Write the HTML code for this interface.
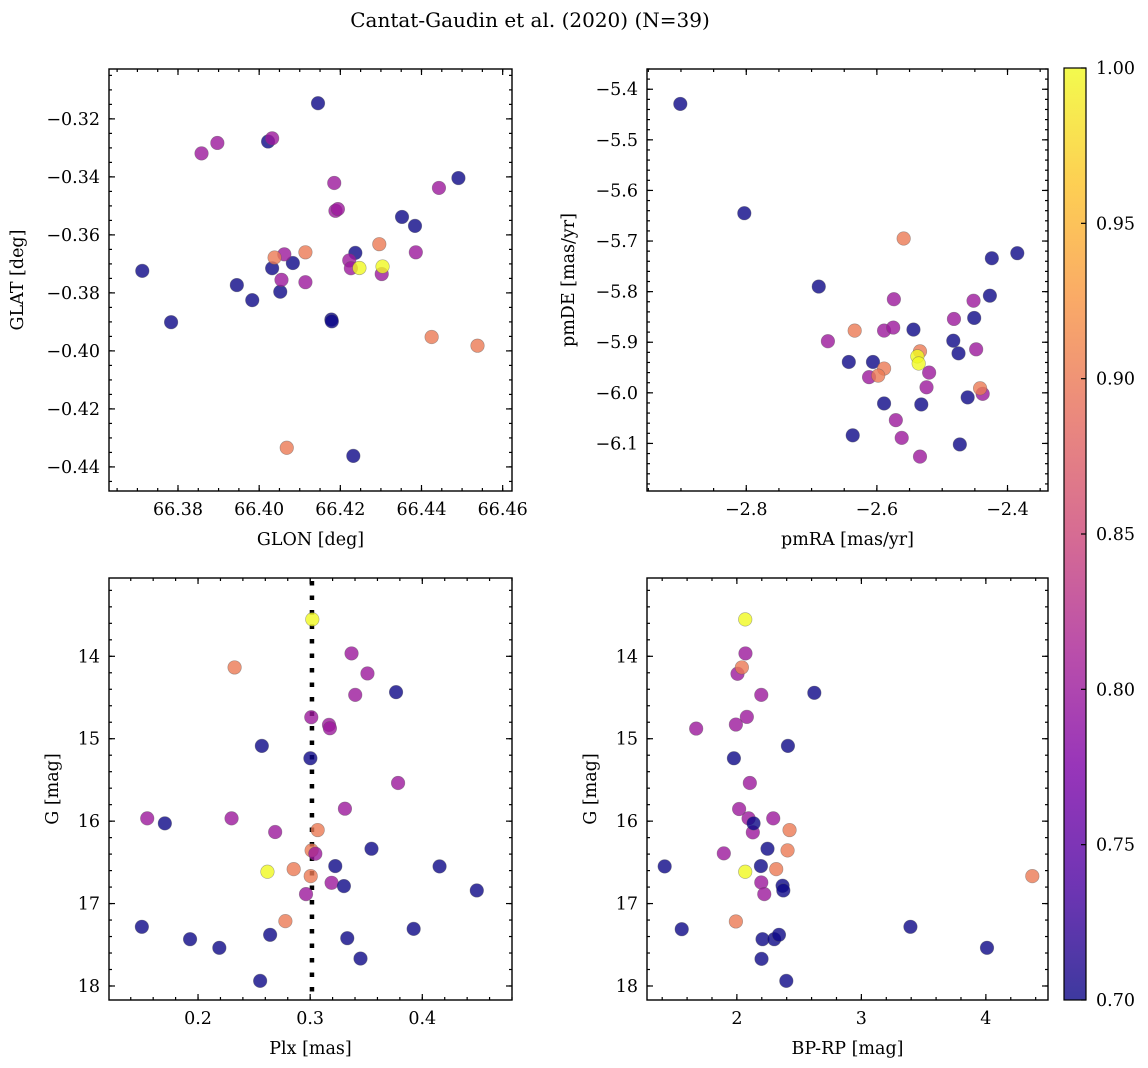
<!DOCTYPE html>
<html><head><meta charset="utf-8"><style>
html,body{margin:0;padding:0;background:#fff;}
svg{display:block;font-family:"DejaVu Serif","Liberation Serif",serif;}
</style></head><body>
<svg id="fig" width="1148" height="1068" viewBox="0 0 1148 1068" xmlns="http://www.w3.org/2000/svg">
<defs>
<linearGradient id="plasma" x1="0" y1="1" x2="0" y2="0">
<stop offset="0" stop-color="#0d0887"/><stop offset="0.125" stop-color="#4c02a1"/><stop offset="0.25" stop-color="#7e03a8"/><stop offset="0.375" stop-color="#a92395"/><stop offset="0.5" stop-color="#cc4778"/><stop offset="0.625" stop-color="#e56b5d"/><stop offset="0.75" stop-color="#f89441"/><stop offset="0.875" stop-color="#fdc328"/><stop offset="1" stop-color="#f0f921"/>
</linearGradient>
</defs>
<text x="530" y="27" font-size="20" text-anchor="middle">Cantat-Gaudin et al. (2020) (N=39)</text>
</svg>
<script>
// Panel 1: sky position
const glon = [66.4145,66.4022,66.4491,66.4352,66.4384,66.4237,66.4083,66.4032,66.3712,66.3945,66.3983,66.4052,66.3783,66.4178,66.4179,66.4232,
 66.3858,66.3897,66.4032,66.4185,66.4188,66.4194,66.4443,66.4386,66.4062,66.4222,66.4226,66.4055,66.4114,66.4302,
 66.4038,66.4114,66.4296,66.4425,66.4538,66.4068,66.4247,66.4304];
const glat = [-0.3146,-0.3278,-0.3404,-0.3538,-0.3569,-0.3662,-0.3697,-0.3715,-0.3724,-0.3773,-0.3825,-0.3796,-0.3901,-0.3892,-0.3898,-0.4362,
 -0.3319,-0.3283,-0.3267,-0.3421,-0.3517,-0.3511,-0.3438,-0.3660,-0.3667,-0.3688,-0.3715,-0.3755,-0.3763,-0.3735,
 -0.3678,-0.3660,-0.3632,-0.3952,-0.3982,-0.4334,-0.3714,-0.3709];
const prob1 = [0.7,0.7,0.7,0.7,0.7,0.7,0.7,0.7,0.7,0.7,0.7,0.7,0.7,0.7,0.7,0.7,
 0.8,0.8,0.8,0.8,0.8,0.8,0.8,0.8,0.8,0.8,0.8,0.8,0.8,0.8,
 0.9,0.9,0.9,0.9,0.9,0.9,1.0,1.0];
// Panel 2: proper motions
const pmra = [-2.901,-2.803,-2.689,-2.643,-2.606,-2.544,-2.424,-2.385,-2.427,-2.451,-2.483,-2.475,-2.461,-2.589,-2.532,-2.637,-2.473,
 -2.675,-2.574,-2.589,-2.575,-2.612,-2.482,-2.452,-2.448,-2.520,-2.524,-2.438,-2.571,-2.562,-2.534,
 -2.559,-2.634,-2.589,-2.598,-2.534,-2.442,-2.538,-2.536];
const pmde = [-5.429,-5.645,-5.790,-5.939,-5.939,-5.875,-5.734,-5.724,-5.808,-5.852,-5.897,-5.922,-6.009,-6.021,-6.023,-6.084,-6.102,
 -5.898,-5.815,-5.877,-5.871,-5.969,-5.854,-5.818,-5.914,-5.960,-5.989,-6.002,-6.054,-6.089,-6.126,
 -5.695,-5.877,-5.952,-5.966,-5.918,-5.991,-5.928,-5.942];
const prob2 = [0.7,0.7,0.7,0.7,0.7,0.7,0.7,0.7,0.7,0.7,0.7,0.7,0.7,0.7,0.7,0.7,0.7,
 0.8,0.8,0.8,0.8,0.8,0.8,0.8,0.8,0.8,0.8,0.8,0.8,0.8,0.8,
 0.9,0.9,0.9,0.9,0.9,0.9,1.0,1.0];
// Panel 3: parallax vs G
const plx = [0.3019,0.2619,
 0.2326,0.3067,0.3013,0.2853,0.3005,0.2779,
 0.3369,0.3511,0.3402,0.3010,0.3168,0.3176,0.3784,0.3310,0.1547,0.2299,0.2688,0.3046,0.3191,0.2963,
 0.3766,0.2569,0.3002,0.1704,0.3547,0.3224,0.4154,0.3301,0.4486,0.1499,0.1929,0.2190,0.2643,0.3331,0.3923,0.3449,0.2554];
const gmag3 = [13.552,16.614,
 14.135,16.108,16.355,16.582,16.667,17.213,
 13.965,14.208,14.468,14.739,14.832,14.873,15.537,15.849,15.966,15.966,16.132,16.395,16.748,16.885,
 14.435,15.087,15.237,16.027,16.335,16.545,16.549,16.788,16.841,17.282,17.432,17.537,17.379,17.420,17.307,17.667,17.938];
const prob3 = [1.0,1.0, 0.9,0.9,0.9,0.9,0.9,0.9,
 0.8,0.8,0.8,0.8,0.8,0.8,0.8,0.8,0.8,0.8,0.8,0.8,0.8,0.8,
 0.7,0.7,0.7,0.7,0.7,0.7,0.7,0.7,0.7,0.7,0.7,0.7,0.7,0.7,0.7,0.7,0.7];
const plxRef = [0.3016];
// Panel 4: CMD
const bprp = [2.067,2.067,
 2.069,2.005,2.196,2.080,1.673,1.992,2.104,2.018,2.094,2.292,2.128,1.895,2.196,2.220,
 2.040,2.423,2.407,2.316,4.373,1.992,
 2.622,2.410,1.976,2.134,2.246,2.193,1.420,2.367,2.373,1.557,3.394,2.206,2.300,2.338,4.009,2.198,2.397];
const gmag4 = [13.552,16.614,
 13.965,14.212,14.468,14.735,14.877,14.828,15.537,15.853,15.966,15.966,16.136,16.391,16.744,16.885,
 14.135,16.108,16.355,16.582,16.667,17.217,
 14.443,15.087,15.237,16.027,16.335,16.545,16.549,16.784,16.841,17.311,17.282,17.432,17.432,17.379,17.537,17.671,17.938];
const prob4 = [1.0,1.0,
 0.8,0.8,0.8,0.8,0.8,0.8,0.8,0.8,0.8,0.8,0.8,0.8,0.8,0.8,
 0.9,0.9,0.9,0.9,0.9,0.9,
 0.7,0.7,0.7,0.7,0.7,0.7,0.7,0.7,0.7,0.7,0.7,0.7,0.7,0.7,0.7,0.7,0.7];
const cbTicks = [0.70,0.75,0.80,0.85,0.90,0.95,1.00];

const NS = "http://www.w3.org/2000/svg";
const svg = document.getElementById('fig');
function mk(tag, attrs, parent){ const e=document.createElementNS(NS,tag); for(const k in attrs) e.setAttribute(k,attrs[k]); (parent||svg).appendChild(e); return e; }
const stops=[[0,[13,8,135]],[0.125,[76,2,161]],[0.25,[126,3,168]],[0.375,[169,35,149]],[0.5,[204,71,120]],[0.625,[229,107,93]],[0.75,[248,148,65]],[0.875,[253,195,40]],[1,[240,249,33]]];
function plasma(v){ let t=(v-0.7)/0.3; t=Math.max(0,Math.min(1,t));
 for(let i=0;i<stops.length-1;i++){ const a=stops[i],b=stops[i+1]; if(t<=b[0]){ const f=(t-a[0])/(b[0]-a[0]); const c=a[1].map((x,j)=>Math.round(x+(b[1][j]-x)*f)); return 'rgb('+c.join(',')+')'; } }
 return 'rgb(240,249,33)'; }
function fmt(v,d){ const s=Math.abs(v).toFixed(d); return (v<-1e-9?'\u2212':'')+s; }

function panel(cfg){
 const g=mk('g',{});
 
 
 const {x0,x1,y0,y1,xmin,xmax,ymin,ymax}=cfg;
 const sx=v=>x0+(v-xmin)/(xmax-xmin)*(x1-x0);
 const sy=v=>y0+(v-ymin)/(ymax-ymin)*(y1-y0);
 const tg=mk('g',{stroke:'#000','stroke-width':1.2},g);
 const eps=1e-9;
 function range(a,b,st){ const lo=Math.min(a,b),hi=Math.max(a,b); const r=[]; for(let v=Math.ceil(lo/st-eps)*st; v<=hi+eps; v+=st) r.push(+v.toFixed(6)); return r; }
 range(xmin,xmax,cfg.xminor).forEach(v=>{const X=sx(v); mk('line',{x1:X,x2:X,y1:y1,y2:y1-3},tg); mk('line',{x1:X,x2:X,y1:y0,y2:y0+3},tg);});
 range(ymin,ymax,cfg.yminor).forEach(v=>{const Y=sy(v); mk('line',{x1:x0,x2:x0+3,y1:Y,y2:Y},tg); mk('line',{x1:x1,x2:x1-3,y1:Y,y2:Y},tg);});
 cfg.xticks.forEach(v=>{const X=sx(v); mk('line',{x1:X,x2:X,y1:y1,y2:y1-6},tg); mk('line',{x1:X,x2:X,y1:y0,y2:y0+6},tg);
   const t=mk('text',{x:X,y:y1+24,'font-size':17.5,'text-anchor':'middle'},g); t.textContent=fmt(v,cfg.xd);
   
   });
 cfg.yticks.forEach(v=>{const Y=sy(v); mk('line',{x1:x0,x2:x0+6,y1:Y,y2:Y},tg); mk('line',{x1:x1,x2:x1-6,y1:Y,y2:Y},tg);
   const t=mk('text',{x:x0-9,y:Y+6,'font-size':17.5,'text-anchor':'end'},g); t.textContent=fmt(v,cfg.yd);
   
   });
 if(cfg.vline){ cfg.vline.forEach(v=>{ const l=mk('line',{x1:sx(v),x2:sx(v),y1:y0+3,y2:y1,stroke:'#000','stroke-width':4.5,'stroke-dasharray':'4.5 10'},g);
   
    }); }
 const pg=mk('g',{},g);
 cfg.xs.forEach((v,i)=>{ const c=mk('circle',{cx:sx(v),cy:sy(cfg.ys[i]),r:6.8,fill:plasma(cfg.ps[i]),'fill-opacity':0.8,stroke:'rgba(90,90,90,0.5)','stroke-width':0.6},pg);
   
    });
 const fr=mk('rect',{x:x0,y:y0,width:x1-x0,height:y1-y0,fill:'none',stroke:'#000','stroke-width':1.4},g);
 
 
 const xl=mk('text',{x:(x0+x1)/2,y:y1+54,'font-size':17.5,'text-anchor':'middle'},g); xl.textContent=cfg.xlabel;
 
 
 const yx=cfg.ylx, yy=(y0+y1)/2;
 const yl=mk('text',{x:yx,y:yy,'font-size':17.5,'text-anchor':'middle',transform:'rotate(-90 '+yx+' '+yy+')'},g); yl.textContent=cfg.ylabel;
 
 
}
panel({name:'panel-glon-glat',x0:109,x1:512,y0:69,y1:491,xmin:66.363,xmax:66.4623,ymin:-0.3028,ymax:-0.4483,
 xticks:[66.38,66.40,66.42,66.44,66.46],xd:2,xminor:0.005,yticks:[-0.32,-0.34,-0.36,-0.38,-0.40,-0.42,-0.44],yd:2,yminor:0.005,
 xs:glon,ys:glat,ps:prob1,xlabel:'GLON [deg]',ylabel:'GLAT [deg]',ylx:23});
panel({name:'panel-proper-motion',x0:647,x1:1048,y0:69,y1:491,xmin:-2.952,xmax:-2.338,ymin:-5.360,ymax:-6.194,
 xticks:[-2.8,-2.6,-2.4],xd:1,xminor:0.05,yticks:[-5.4,-5.5,-5.6,-5.7,-5.8,-5.9,-6.0,-6.1],yd:1,yminor:0.02,
 xs:pmra,ys:pmde,ps:prob2,xlabel:'pmRA [mas/yr]',ylabel:'pmDE [mas/yr]',ylx:574});
panel({name:'panel-parallax-g',x0:109,x1:512,y0:578,y1:1000,xmin:0.1206,xmax:0.48,ymin:13.05,ymax:18.17,
 xticks:[0.2,0.3,0.4],xd:1,xminor:0.02,yticks:[14,15,16,17,18],yd:0,yminor:0.2,vline:plxRef,
 xs:plx,ys:gmag3,ps:prob3,xlabel:'Plx [mas]',ylabel:'G [mag]',ylx:58});
panel({name:'panel-cmd',x0:647,x1:1048,y0:578,y1:1000,xmin:1.278,xmax:4.499,ymin:13.05,ymax:18.17,
 xticks:[2,3,4],xd:0,xminor:0.2,yticks:[14,15,16,17,18],yd:0,yminor:0.2,
 xs:bprp,ys:gmag4,ps:prob4,xlabel:'BP-RP [mag]',ylabel:'G [mag]',ylx:596});

const cb=mk('g',{});


const cbx0=1064,cbx1=1086,cby0=68,cby1=1000;
mk('rect',{x:cbx0,y:cby0,width:cbx1-cbx0,height:cby1-cby0,fill:'url(#plasma)','fill-opacity':0.8},cb);
mk('rect',{x:cbx0,y:cby0,width:cbx1-cbx0,height:cby1-cby0,fill:'none',stroke:'#000','stroke-width':1.2},cb);
const cy=v=>cby1-(v-0.7)/0.3*(cby1-cby0);
cbTicks.forEach(v=>{ const Y=cy(v); mk('line',{x1:cbx1,x2:cbx1-5,y1:Y,y2:Y,stroke:'#000','stroke-width':1.2},cb);
 const t=mk('text',{x:cbx1+10,y:Y+6,'font-size':17.5},cb); t.textContent=v.toFixed(2);
 
  });
</script>
</body></html>
